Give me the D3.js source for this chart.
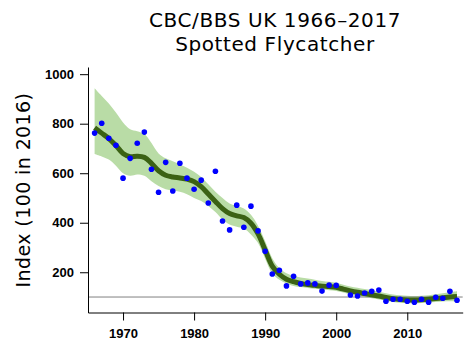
<!DOCTYPE html>
<html>
<head>
<meta charset="utf-8">
<script src="https://cdn.jsdelivr.net/npm/d3@7"></script>
<style>
  body { margin: 0; background: #fff; }
  svg { display: block; }
</style>
</head>
<body>
<div id="chart"></div>
<script>
"use strict";

const W = 470, H = 353;

// annual index values (points), 2001 missing (no survey)
const pointYears = [1966,1967,1968,1969,1970,1971,1972,1973,1974,1975,1976,1977,1978,1979,1980,
  1981,1982,1983,1984,1985,1986,1987,1988,1989,1990,1991,1992,1993,1994,1995,1996,1997,1998,1999,2000,
  2002,2003,2004,2005,2006,2007,2008,2009,2010,2011,2012,2013,2014,2015,2016,2017];
const pointValues = [762,802,741,713,580,660,721,766,616,523,644,528,640,580,535,
  572,480,608,407,371,471,382,467,367,285,193,208,145,184,153,157,153,124,148,147,
  108,104,116,123,128,83,91,91,83,79,91,79,99,95,123,87];

// smoothed trend and its confidence band
const trendYears = d3.range(1966, 2018);
const trend = [784,762,740,712,680,667,669,664,640,610,592,585,581,576,566,546,516,486,457,437,
  428,421,398,355,290,225,192,172,162,155,150,147,144,142,139,132,125,119,114,109,104,98,93,90,
  88,88,89,91,94,97,100,102];
const upper = [943,912,882,845,805,778,770,758,722,680,660,648,635,622,606,585,555,525,500,478,
  468,458,432,388,325,257,217,196,186,179,175,170,165,162,158,150,143,137,132,127,121,115,110,107,
  105,104,105,107,111,115,119,123];
const lower = [678,668,655,630,600,590,595,590,568,548,535,530,525,515,500,488,468,443,413,393,
  384,377,353,318,255,195,170,155,145,140,136,133,130,127,124,118,110,104,100,95,90,85,80,77,
  75,75,76,78,80,82,83,82];

const yTicks = [200, 400, 600, 800, 1000];
const xTicks = [1970, 1980, 1990, 2000, 2010];
const refValue = 100;

const svg = d3.select("#chart").append("svg")
  .attr("width", W).attr("height", H);

const x = d3.scaleLinear().domain([1965.07, 2017.8]).range([88, 462.7]);
const y = d3.scaleLinear().domain([37.5, 1029]).range([312.5, 67]);

// CI band
const area = d3.area()
  .x((d, i) => x(trendYears[i]))
  .y0((d, i) => y(lower[i]))
  .y1((d, i) => y(upper[i]))
  .curve(d3.curveCatmullRom);
svg.append("path")
  .datum(trend)
  .attr("d", area)
  .attr("fill", "#b9dca6");

// reference line at 100
svg.append("line")
  .attr("x1", x.range()[0]).attr("x2", x.range()[1])
  .attr("y1", y(refValue)).attr("y2", y(refValue))
  .attr("stroke", "#808080").attr("stroke-width", 1);

// trend line
const line = d3.line()
  .x((d, i) => x(trendYears[i]))
  .y(d => y(d))
  .curve(d3.curveCatmullRom);
svg.append("path")
  .datum(trend)
  .attr("d", line)
  .attr("fill", "none")
  .attr("stroke", "#3b6214")
  .attr("stroke-width", 5)
  .attr("stroke-linecap", "butt");

// points
svg.selectAll("circle.pt")
  .data(pointValues)
  .enter().append("circle")
  .attr("class", "pt")
  .attr("cx", (d, i) => x(pointYears[i]))
  .attr("cy", d => y(d))
  .attr("r", 2.8)
  .attr("fill", "#0000ff");

// axes
const yAxis = svg.append("g")
  .attr("transform", "translate(88,0)")
  .call(d3.axisLeft(y).tickValues(yTicks).tickFormat(d3.format("d")).tickSize(8).tickSizeOuter(0).tickPadding(6));
const xAxis = svg.append("g")
  .attr("transform", "translate(0,312.5)")
  .call(d3.axisBottom(x).tickValues(xTicks).tickFormat(d3.format("d")).tickSize(8).tickSizeOuter(0).tickPadding(8));

[yAxis, xAxis].forEach(g => {
  g.selectAll("text")
    .attr("font-family", "'Liberation Sans', Arial, sans-serif")
    .attr("font-weight", "bold")
    .attr("font-size", 13)
    .attr("fill", "#000");
  g.attr("font-size", 13);
  g.select(".domain").attr("stroke", "#000");
});

// y axis title
svg.append("text")
  .attr("transform", "translate(30,190) rotate(-90)")
  .attr("text-anchor", "middle")
  .attr("font-family", "'DejaVu Sans', sans-serif")
  .attr("font-size", 19)
  .attr("letter-spacing", 0.4)
  .text("Index (100 in 2016)");

// title
const title = svg.append("text")
  .attr("text-anchor", "middle")
  .attr("font-family", "'DejaVu Sans', sans-serif")
  .attr("font-size", 20)
  .attr("letter-spacing", 0.6);
title.append("tspan").attr("x", 275).attr("y", 27).text("CBC/BBS UK 1966\u20132017");
title.append("tspan").attr("x", 275).attr("y", 51).text("Spotted Flycatcher");
</script>
</body>
</html>
